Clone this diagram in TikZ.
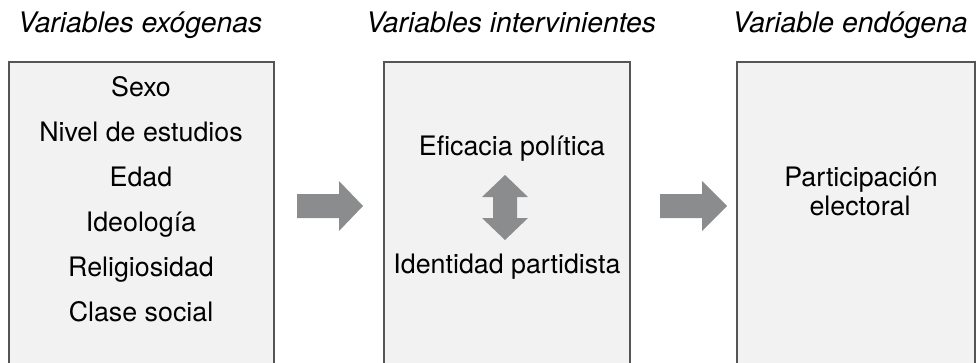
\documentclass[tikz,border=0pt]{standalone}
\usepackage{fontspec}
\setmainfont{TeX Gyre Heros}
\definecolor{boxfill}{HTML}{F2F2F2}
\definecolor{boxline}{HTML}{555555}
\definecolor{arrowgray}{HTML}{8B8C8E}
\begin{document}
\begin{tikzpicture}[x=1pt,y=-1pt,
  panel/.style={fill=boxfill,draw=boxline,line width=1.3pt},
  blockarrow/.style={fill=arrowgray,draw=none},
  title/.style={anchor=base,inner sep=0pt,font=\fontsize{28.3}{32}\selectfont\itshape},
  item/.style={anchor=base,inner sep=0pt,font=\fontsize{26.8}{30}\selectfont}]
\useasboundingbox (0,0) rectangle (976,362);
\clip (0,0) rectangle (976,362);
% boxes
\draw[panel] (9,62) rectangle (274,380);
\draw[panel] (384,62) rectangle (630,380);
\draw[panel] (737,62) rectangle (975,380);
% titles
\node[title] (t1) at (140,32) {Variables exógenas};
\node[title] (t2) at (511,32) {Variables intervinientes};
\node[title] (t3) at (850,32) {Variable endógena};
% left items
\node[item] (a1) at (141,96) {Sexo};
\node[item] (a2) at (141,141) {Nivel de estudios};
\node[item] (a3) at (141,186) {Edad};
\node[item] (a4) at (141,231) {Ideología};
\node[item] (a5) at (141,276) {Religiosidad};
\node[item] (a6) at (141,321) {Clase social};
% middle items
\node[item] (b1) at (512,155) {Eficacia política};
\node[item] (b2) at (507,273) {Identidad partidista};
% right items
\node[item] (c1) at (861,186) {Participación};
\node[item] (c2) at (860,215) {electoral};
% arrows
\fill[blockarrow] (297,194) -- (339,194) -- (339,181) -- (363,206) -- (339,231) -- (339,218) -- (297,218) -- cycle;
\fill[blockarrow] (660,194) -- (702,194) -- (702,181) -- (727,206) -- (702,231) -- (702,218) -- (660,218) -- cycle;
\fill[blockarrow] (505,175) -- (528,197) -- (517,197) -- (517,218) -- (528,218) -- (505,240) -- (482,218) -- (493,218) -- (493,197) -- (482,197) -- cycle;
\end{tikzpicture}
\end{document}
